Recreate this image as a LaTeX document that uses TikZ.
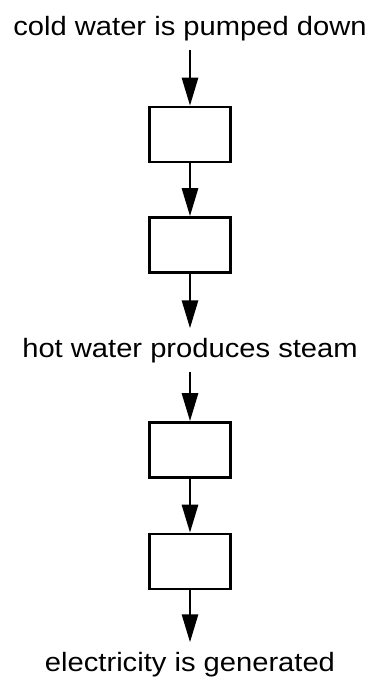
\documentclass[tikz,border=0pt]{standalone}
\usepackage{fontspec}
\setmainfont[FakeStretch=1.1]{Liberation Sans}
\usepackage{tikz}
\usetikzlibrary{arrows.meta}
\tikzset{
	stagebox/.style={draw, line width=2.6pt, minimum width=81pt, minimum height=55pt, inner sep=0pt},
	steptext/.style={font=\fontsize{26.5}{30}\selectfont, text height=19pt, text depth=5.5pt, inner xsep=0pt, inner ysep=9.5pt},
	flow/.style={line width=2.8pt, -{Triangle[length=28pt,width=16pt]}}
}

\begin{document}
\begin{tikzpicture}[x=1pt, y=-1pt]
			%%%%% START %%%%%
			
			\useasboundingbox (0, 0) rectangle (371, 678);
			
			\node[steptext, anchor=base] (cold) at (190, 35) {cold water is pumped down};
			\node[stagebox] (boxa) at (190, 134.5) {};
			\node[stagebox] (boxb) at (190, 245) {};
			
			\node[steptext, anchor=base] (hot) at (190, 357) {hot water produces steam};
			\node[stagebox] (boxc) at (190, 450) {};
			\node[stagebox] (boxd) at (190, 561.5) {};
			
			\node[steptext, anchor=base] (elec) at (190, 671) {electricity is generated};
			
			\draw[flow] (cold) -- (boxa);
			\draw[flow] (boxa) -- (boxb);
			\draw[flow] (boxb) -- (hot);
			\draw[flow] (hot) -- (boxc);
			\draw[flow] (boxc) -- (boxd);
			\draw[flow] (boxd) -- (elec);
			
			%%%%% END %%%%%
		\end{tikzpicture}
\end{document}
